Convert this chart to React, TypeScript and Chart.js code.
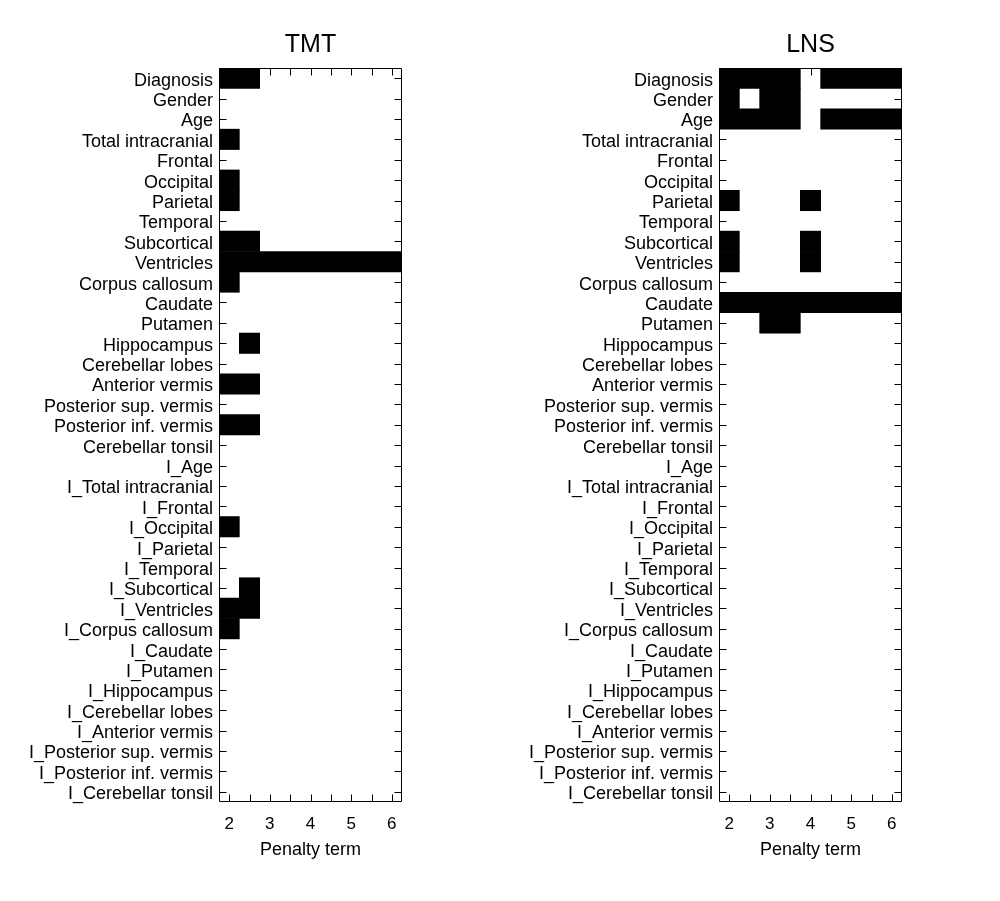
import React, { useEffect, useRef } from 'react';
import { Chart, registerables } from 'chart.js';

Chart.register(...registerables);

const rowLabels: string[] = [
  'Diagnosis', 'Gender', 'Age', 'Total intracranial', 'Frontal', 'Occipital', 'Parietal', 'Temporal',
  'Subcortical', 'Ventricles', 'Corpus callosum', 'Caudate', 'Putamen', 'Hippocampus', 'Cerebellar lobes',
  'Anterior vermis', 'Posterior sup. vermis', 'Posterior inf. vermis', 'Cerebellar tonsil',
  'I_Age', 'I_Total intracranial', 'I_Frontal', 'I_Occipital', 'I_Parietal', 'I_Temporal', 'I_Subcortical',
  'I_Ventricles', 'I_Corpus callosum', 'I_Caudate', 'I_Putamen', 'I_Hippocampus', 'I_Cerebellar lobes',
  'I_Anterior vermis', 'I_Posterior sup. vermis', 'I_Posterior inf. vermis', 'I_Cerebellar tonsil',
];

const penaltyTerms: number[] = [2, 2.5, 3, 3.5, 4, 4.5, 5, 5.5, 6];
const xTickLabels: string[] = ['2', '3', '4', '5', '6'];

// selected penalty terms per row (black cells)
const tmtSelected: number[][] = [
  [2, 2.5], [], [], [2], [], [2], [2], [],
  [2, 2.5], [2, 2.5, 3, 3.5, 4, 4.5, 5, 5.5, 6], [2], [], [], [2.5], [],
  [2, 2.5], [], [2, 2.5], [],
  [], [], [], [2], [], [], [2.5],
  [2, 2.5], [2], [], [], [], [],
  [], [], [], [],
];

const lnsSelected: number[][] = [
  [2, 2.5, 3, 3.5, 4.5, 5, 5.5, 6], [2, 3, 3.5], [2, 2.5, 3, 3.5, 4.5, 5, 5.5, 6], [], [], [], [2, 4], [],
  [2, 4], [2, 4], [], [2, 2.5, 3, 3.5, 4, 4.5, 5, 5.5, 6], [3, 3.5], [], [],
  [], [], [], [],
  [], [], [], [], [], [], [],
  [], [], [], [], [], [],
  [], [], [], [],
];

const STEP = 0.5;
const FONT = '"Liberation Sans", Arial, Helvetica, sans-serif';

function runsOf(terms: number[]): [number, number][] {
  const s = [...terms].sort((a, b) => a - b);
  const runs: [number, number][] = [];
  for (const t of s) {
    const last = runs[runs.length - 1];
    if (last && Math.abs(t - last[1] - STEP) < 1e-9) last[1] = t;
    else runs.push([t, t]);
  }
  return runs;
}

function buildDatasets(selected: number[][]) {
  const rowRuns = selected.map(runsOf);
  const maxRuns = Math.max(1, ...rowRuns.map((r) => r.length));
  const ds: any[] = [];
  for (let k = 0; k < maxRuns; k++) {
    ds.push({
      data: rowRuns.map((r) => (r[k] ? [r[k][0] - STEP / 2, r[k][1] + STEP / 2] : null)),
      backgroundColor: '#000000',
      borderWidth: 0,
      barPercentage: 1,
      categoryPercentage: 1,
      grouped: false,
    });
  }
  return ds;
}

const framePlugin = {
  id: 'frame',
  afterDraw(chart: any, _args: any, opts: any) {
    const { ctx, chartArea, scales } = chart;
    const { left, right, top, bottom } = chartArea;
    const x = scales.x;
    const y = scales.y;
    const tl = 7;
    ctx.save();
    ctx.strokeStyle = '#000';
    ctx.lineWidth = 1;
    ctx.beginPath();
    const L = Math.round(left) + 0.5;
    const R = Math.round(right) - 0.5;
    const T = Math.round(top) + 0.5;
    const B = Math.round(bottom) - 0.5;
    ctx.rect(L, T, R - L, B - T);
    for (const v of penaltyTerms) {
      const px = Math.round(x.getPixelForValue(v)) + 0.5;
      ctx.moveTo(px, B);
      ctx.lineTo(px, B - tl);
      ctx.moveTo(px, T);
      ctx.lineTo(px, T + tl);
    }
    for (let i = 0; i < rowLabels.length; i++) {
      const py = Math.round(y.getPixelForValue(i)) + 0.5;
      ctx.moveTo(L, py);
      ctx.lineTo(L + tl, py);
      ctx.moveTo(R, py);
      ctx.lineTo(R - tl, py);
    }
    ctx.stroke();
    ctx.fillStyle = '#000';
    ctx.textAlign = 'center';
    ctx.textBaseline = 'alphabetic';
    const cx = (left + right) / 2;
    ctx.font = `25px ${FONT}`;
    ctx.fillText(opts.title || '', cx, 52);
    ctx.font = `18px ${FONT}`;
    ctx.fillText(opts.xTitle || '', cx, 855);
    ctx.restore();
  },
};

function Panel({ title, selected }: { title: string; selected: number[][] }) {
  const ref = useRef<HTMLCanvasElement | null>(null);
  useEffect(() => {
    if (!ref.current) return;
    const chart = new Chart(ref.current, {
      type: 'bar',
      data: { labels: rowLabels, datasets: buildDatasets(selected) },
      options: {
        indexAxis: 'y',
        animation: false,
        responsive: false,
        maintainAspectRatio: false,
        layout: { padding: { left: 0, right: 98, top: 68, bottom: 0 } },
        plugins: {
          legend: { display: false },
          tooltip: { enabled: false },
          title: { display: false },
          frame: { title, xTitle: 'Penalty term' },
        } as any,
        scales: {
          x: {
            type: 'linear',
            min: 1.75,
            max: 6.25,
            grid: { display: false, drawTicks: false },
            border: { display: false },
            afterBuildTicks: (s: any) => {
              s.ticks = penaltyTerms.map((v) => ({ value: v }));
            },
            afterFit: (s: any) => {
              s.height = 99;
            },
            ticks: {
              autoSkip: false,
              maxRotation: 0,
              padding: 12,
              color: '#000',
              font: { family: FONT, size: 17 },
              callback: (v: any) => (xTickLabels.includes(String(v)) ? String(v) : ''),
            },
          },
          y: {
            type: 'category',
            grid: { display: false, drawTicks: false },
            border: { display: false },
            afterFit: (s: any) => {
              s.width = 219;
            },
            ticks: {
              autoSkip: false,
              padding: 6,
              labelOffset: 2.5,
              color: '#000',
              font: { family: FONT, size: 18 },
            },
          },
        },
      } as any,
      plugins: [framePlugin],
    });
    return () => chart.destroy();
  }, [title, selected]);
  return <canvas ref={ref} width={500} height={901} style={{ display: 'block', width: 500, height: 901 }} />;
}

export default function App() {
  useEffect(() => {
    document.body.style.margin = '0';
    document.body.style.background = '#fff';
  }, []);
  return (
    <div style={{ display: 'flex', width: 1000, height: 901, overflow: 'hidden', background: '#fff' }}>
      <Panel title="TMT" selected={tmtSelected} />
      <Panel title="LNS" selected={lnsSelected} />
    </div>
  );
}
